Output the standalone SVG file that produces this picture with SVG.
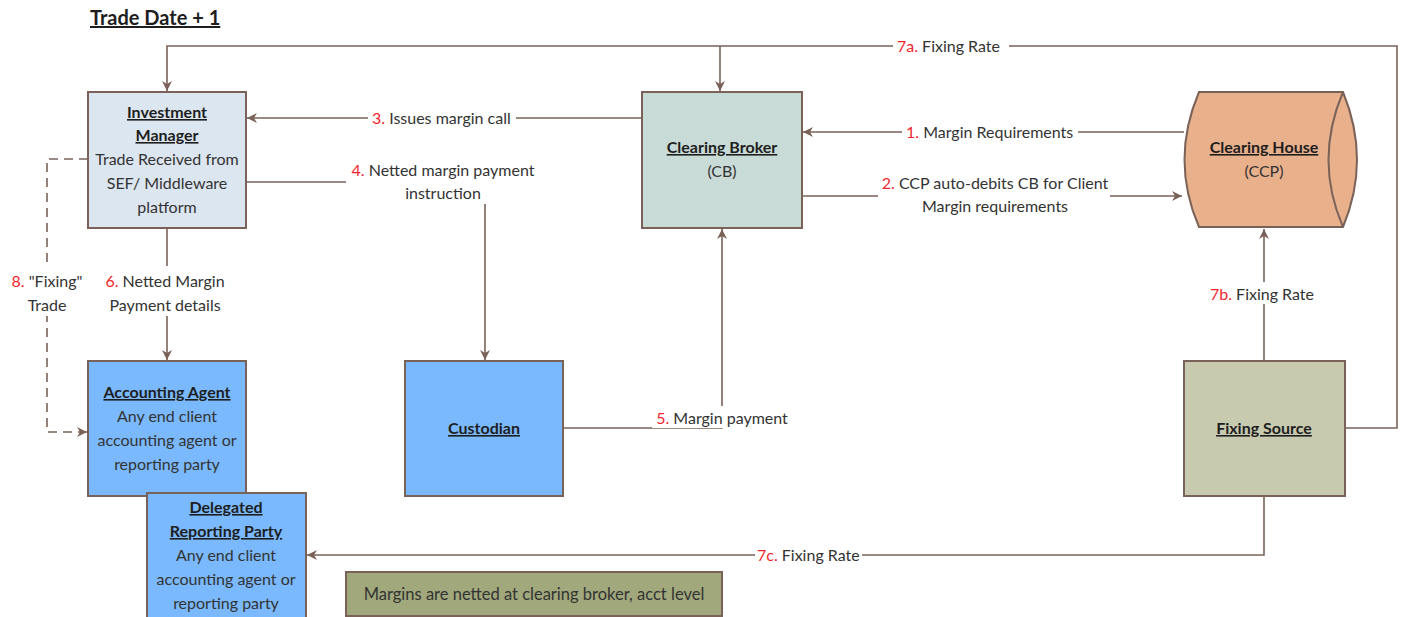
<svg xmlns="http://www.w3.org/2000/svg" width="1401" height="617" viewBox="0 0 1401 617">
<defs>
<marker id="arr" viewBox="0 0 10 10" refX="10" refY="5" markerWidth="10" markerHeight="10" markerUnits="userSpaceOnUse" orient="auto">
<path d="M0,0 L10,5 L0,10 L3,5 Z" fill="#7a6259"/>
</marker>
<style>
text{font-family:Lato,"Liberation Sans",sans-serif;font-size:16px;fill:#333}
.h{font-weight:bold;text-decoration:underline;fill:#1e1e1e}
.n{fill:#f0262d}
.c{text-anchor:middle}
.box{stroke:#7a6259;stroke-width:2}
.ln{fill:none;stroke:#7a6259;stroke-width:1.6}
.dash{stroke-dasharray:9,6}
.bg{fill:#fff}
</style>
</defs>
<rect width="1401" height="617" fill="#fff"/>
<text x="90" y="25" class="h" style="font-size:20px">Trade Date + 1</text>

<g id="connectors">
<path class="ln" d="M1345,428 H1397 V46 H167 V91" marker-end="url(#arr)"/>
<path class="ln" d="M720,46 V91" marker-end="url(#arr)"/>
<path class="ln" d="M1184,132 H803" marker-end="url(#arr)"/>
<path class="ln" d="M802,196 H1182" marker-end="url(#arr)"/>
<path class="ln" d="M642,118 H247" marker-end="url(#arr)"/>
<path class="ln" d="M246,182 H485 V360" marker-end="url(#arr)"/>
<path class="ln" d="M167,228 V360" marker-end="url(#arr)"/>
<path class="ln dash" d="M88,159 H47 V432 H87" marker-end="url(#arr)"/>
<path class="ln" d="M563,428 H722 V229" marker-end="url(#arr)"/>
<path class="ln" d="M1264,361 V229" marker-end="url(#arr)"/>
<path class="ln" d="M1264,496 V555 H307" marker-end="url(#arr)"/>

<rect class="bg" x="893" y="36" width="116" height="20"/>
<text x="897" y="52"><tspan class="n">7a.</tspan> Fixing Rate</text>
<rect class="bg" x="902" y="122" width="176" height="20"/>
<text x="906" y="138"><tspan class="n">1.</tspan> Margin Requirements</text>
<rect class="bg" x="878" y="172" width="232" height="44"/>
<text x="995" y="189" class="c"><tspan class="n">2.</tspan> CCP auto-debits CB for Client</text>
<text x="995" y="212" class="c">Margin requirements</text>
<rect class="bg" x="368" y="108" width="148" height="20"/>
<text x="372" y="124"><tspan class="n">3.</tspan> Issues margin call</text>
<rect class="bg" x="346" y="158" width="196" height="46"/>
<text x="443" y="176" class="c"><tspan class="n">4.</tspan> Netted margin payment</text>
<text x="443" y="199" class="c">instruction</text>
<rect class="bg" x="108" y="266" width="120" height="50"/>
<text x="165" y="287" class="c"><tspan class="n">6.</tspan> Netted Margin</text>
<text x="165" y="311" class="c">Payment details</text>
<rect class="bg" x="6" y="266" width="82" height="50"/>
<text x="47" y="287" class="c"><tspan class="n">8.</tspan> "Fixing"</text>
<text x="47" y="311" class="c">Trade</text>
<rect class="bg" x="652" y="406" width="142" height="22"/>
<text x="722" y="424" class="c"><tspan class="n">5.</tspan> Margin payment</text>
<rect class="bg" x="1204" y="282" width="118" height="22"/>
<text x="1262" y="300" class="c"><tspan class="n">7b.</tspan> Fixing Rate</text>
<rect class="bg" x="755" y="545" width="107" height="20"/>
<text x="757" y="561"><tspan class="n">7c.</tspan> Fixing Rate</text>
</g>

<g id="investment-manager">
<rect class="box" x="88" y="92" width="158" height="136" fill="#dce6f0"/>
<text x="167" y="118" class="c h">Investment</text>
<text x="167" y="141" class="c h">Manager</text>
<text x="167" y="165" class="c">Trade Received from</text>
<text x="167" y="189" class="c">SEF/ Middleware</text>
<text x="167" y="213" class="c">platform</text>
</g>

<g id="clearing-broker">
<rect class="box" x="642" y="92" width="160" height="136" fill="#c9dbd6"/>
<text x="722" y="153" class="c h">Clearing Broker</text>
<text x="722" y="177" class="c">(CB)</text>
</g>

<g id="clearing-house">
<path class="box" d="M1199,92 H1343 Q1371,160 1343,227 H1199 Q1170,160 1199,92 Z" fill="#e9b08c"/>
<path class="box" d="M1343,92 Q1314,160 1343,227" fill="none"/>
<text x="1264" y="153" class="c h">Clearing House</text>
<text x="1264" y="177" class="c">(CCP)</text>
</g>

<g id="accounting-agent">
<rect class="box" x="88" y="361" width="158" height="135" fill="#7ab9fd"/>
<text x="167" y="398" class="c h">Accounting Agent</text>
<text x="167" y="422" class="c">Any end client</text>
<text x="167" y="446" class="c">accounting agent or</text>
<text x="167" y="470" class="c">reporting party</text>
</g>

<g id="custodian">
<rect class="box" x="405" y="361" width="158" height="135" fill="#7ab9fd"/>
<text x="484" y="434" class="c h">Custodian</text>
</g>

<g id="delegated-reporting-party">
<rect class="box" x="147" y="493" width="159" height="130" fill="#7ab9fd"/>
<text x="226" y="513" class="c h">Delegated</text>
<text x="226" y="537" class="c h">Reporting Party</text>
<text x="226" y="561" class="c">Any end client</text>
<text x="226" y="585" class="c">accounting agent or</text>
<text x="226" y="609" class="c">reporting party</text>
</g>

<g id="fixing-source">
<rect class="box" x="1184" y="361" width="161" height="135" fill="#c8cab0"/>
<text x="1264" y="434" class="c h">Fixing Source</text>
</g>

<g id="note">
<rect class="box" x="346" y="572" width="376" height="44" fill="#a0a87c"/>
<text x="534" y="600" class="c" style="font-size:16.5px">Margins are netted at clearing broker, acct level</text>
</g>
</svg>
